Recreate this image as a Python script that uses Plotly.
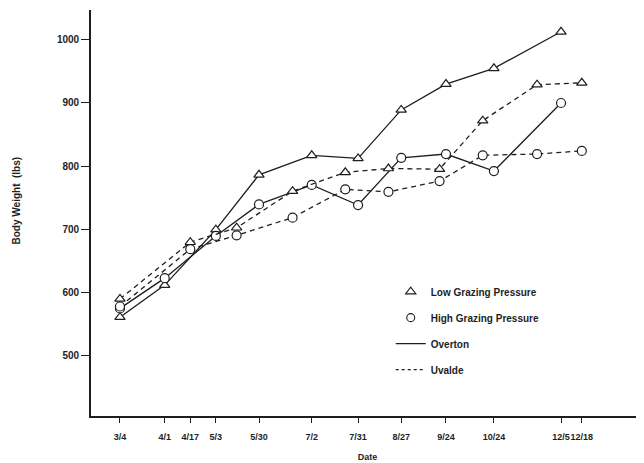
import plotly.graph_objects as go

# Tick dates and labels
tick_dates = ["1983-03-04", "1983-04-01", "1983-04-17", "1983-05-03", "1983-05-30",
              "1983-07-02", "1983-07-31", "1983-08-27", "1983-09-24", "1983-10-24",
              "1983-12-05", "1983-12-18"]
tick_labels = ["3/4", "4/1", "4/17", "5/3", "5/30", "7/2", "7/31", "8/27", "9/24",
               "10/24", "12/5", "12/18"]

# Overton sampling dates
overton_dates = ["1983-03-04", "1983-04-01", "1983-05-03", "1983-05-30", "1983-07-02",
                 "1983-07-31", "1983-08-27", "1983-09-24", "1983-10-24", "1983-12-05"]
overton_low = [560, 611, 699, 786, 817, 812, 889, 930, 955, 1013]
overton_high = [574, 622, 689, 739, 770, 738, 813, 819, 792, 900]

# Uvalde sampling dates
uvalde_dates = ["1983-03-04", "1983-04-17", "1983-05-16", "1983-06-20", "1983-07-23",
                "1983-08-19", "1983-09-20", "1983-10-17", "1983-11-20", "1983-12-18"]
uvalde_low = [589, 679, 702, 760, 790, 796, 795, 872, 929, 932]
uvalde_high = [577, 668, 690, 718, 763, 759, 776, 817, 819, 824]

INK = "#1e1e1e"
FONT = "Liberation Sans, Arial, sans-serif"
DASH = "5px,4px"

fig = go.Figure()

def add_series(x, y, symbol, dash):
    fig.add_trace(go.Scatter(
        x=x, y=y, mode="lines+markers", showlegend=False,
        line=dict(color=INK, width=1.3, dash=dash),
        marker=dict(symbol=symbol, size=9, color="white",
                    line=dict(color=INK, width=1.2)),
        hoverinfo="x+y",
    ))

add_series(overton_dates, overton_low, "triangle-up", "solid")
add_series(overton_dates, overton_high, "circle", "solid")
add_series(uvalde_dates, uvalde_low, "triangle-up", DASH)
add_series(uvalde_dates, uvalde_high, "circle", DASH)

# Legend entries
fig.add_trace(go.Scatter(x=[None], y=[None], mode="markers", name="Low Grazing Pressure",
                         legendgroup="a",
                         marker=dict(symbol="triangle-up-open", size=9, color=INK,
                                     line=dict(width=1.1))))
fig.add_trace(go.Scatter(x=[None], y=[None], mode="markers", name="High Grazing Pressure",
                         legendgroup="b",
                         marker=dict(symbol="circle-open", size=8, color=INK,
                                     line=dict(width=1.1))))
fig.add_trace(go.Scatter(x=[None], y=[None], mode="lines", name="Overton",
                         legendgroup="c",
                         line=dict(color=INK, width=1.3)))
fig.add_trace(go.Scatter(x=[None], y=[None], mode="lines", name="Uvalde",
                         legendgroup="d",
                         line=dict(color=INK, width=1.3, dash="3px,3px")))

fig.update_layout(
    width=636, height=455,
    margin=dict(l=83, r=0, t=2, b=47),
    paper_bgcolor="white", plot_bgcolor="white",
    font=dict(family=FONT, size=10, color=INK, weight="bold"),
    legend=dict(x=0.542, y=0.342, xanchor="left", yanchor="top",
                font=dict(size=10, family=FONT, color=INK, weight="bold"),
                tracegroupgap=7, bgcolor="rgba(0,0,0,0)"),
    xaxis=dict(
        type="date",
        range=["1983-02-13 21:00", "1984-01-25 22:00"],
        tickmode="array", tickvals=tick_dates, ticktext=tick_labels,
        tickangle=0, ticklabelstandoff=6,
        ticks="outside", ticklen=5, tickwidth=1.2, tickcolor=INK,
        showline=True, linecolor=INK, linewidth=1.6,
        showgrid=False, zeroline=False,
        tickfont=dict(size=9, family=FONT, color=INK, weight="bold"),
        title=dict(text="Date", standoff=13,
                   font=dict(size=9, family=FONT, color=INK, weight="bold")),
    ),
    yaxis=dict(
        range=[403.2, 1047.6],
        tickmode="linear", tick0=500, dtick=100,
        ticks="outside", ticklen=8, tickwidth=1.2, tickcolor=INK,
        showline=True, linecolor=INK, linewidth=1.6,
        showgrid=False, zeroline=False,
        tickfont=dict(size=10, family=FONT, color=INK, weight="bold"),
    ),
    annotations=[dict(
        text="Body Weight  (lbs)", textangle=-90,
        xref="paper", yref="paper", x=-0.1348, y=0.532,
        xanchor="center", yanchor="middle", showarrow=False,
        font=dict(size=10, family=FONT, color=INK, weight="bold"),
    )],
)

fig.write_html("out.html")
